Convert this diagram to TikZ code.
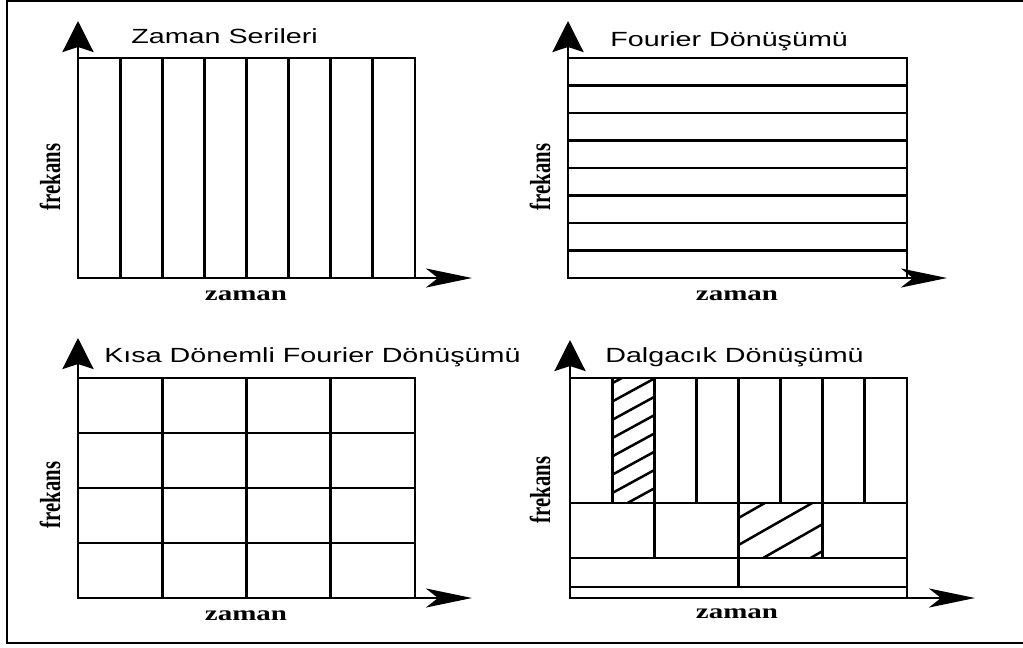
\documentclass[tikz,border=0pt]{standalone}
\usepackage{fontspec}
\setmainfont{Liberation Serif}
\newfontfamily\titlefont{Liberation Sans}
\usetikzlibrary{arrows.meta}

\begin{document}
\begin{tikzpicture}[x=1pt,y=-1pt,
  grid/.style={line width=2.9pt},
  axisline/.style={line width=2.9pt},
  uparrow/.style={axisline,-{Stealth[length=31pt,width=31pt,inset=5pt]}},
  rightarrow/.style={axisline,-{Stealth[length=46pt,width=19pt,inset=12pt]}},
  title/.style={font=\titlefont\fontsize{20.5}{24}\selectfont, xscale=1.4, anchor=base west, inner sep=0pt},
  xlabel/.style={font=\bfseries\fontsize{20.7}{24}\selectfont, xscale=1.4, anchor=base, inner sep=0pt},
  ylabel/.style={font=\bfseries\fontsize{20.7}{24}\selectfont, xscale=1.4, rotate=90, inner sep=0pt},
  hatchline/.style={line width=2.5pt}]

\useasboundingbox (0,0) rectangle (1023,648);
\fill[white] (0,0) rectangle (1023,648);

% outer frame (open on the right)
\draw[line width=2.4pt] (1024,1) -- (7,1) -- (7,643) -- (1024,643);

% ---------- time series: vertical strips ----------
\draw[grid] (78,58) rectangle (415,278);
\foreach \k in {1,...,7}
  \draw[grid] ({78+\k*42.125},58) -- ({78+\k*42.125},278);
\coordinate (o1) at (78,278);
\coordinate (u1) at (78,21);
\coordinate (r1) at (472,278);
\draw[uparrow] (o1) -- (u1);
\draw[rightarrow] (o1) -- (r1);
\node[title] (t1) at (131,43) {Zaman Serileri};
\node[xlabel] (x1) at (246,300) {zaman};
\node[ylabel] (y1) at (50,177) {frekans};

% ---------- Fourier transform: horizontal strips ----------
\draw[grid] (568,58) rectangle (907,278);
\foreach \k in {1,...,7}
  \draw[grid] (568,{58+\k*27.5}) -- (907,{58+\k*27.5});
\coordinate (o2) at (568,278);
\coordinate (u2) at (568,21);
\coordinate (r2) at (947,278);
\draw[uparrow] (o2) -- (u2);
\draw[rightarrow] (o2) -- (r2);
\node[title] (t2) at (610,46) {Fourier Dönüşümü};
\node[xlabel] (x2) at (737,300) {zaman};
\node[ylabel] (y2) at (540,177) {frekans};

% ---------- short-time Fourier transform: uniform tiles ----------
\draw[grid] (78,378) rectangle (415,598);
\foreach \k in {1,2,3} {
  \draw[grid] ({78+\k*84.25},378) -- ({78+\k*84.25},598);
  \draw[grid] (78,{378+\k*55}) -- (415,{378+\k*55});
}
\coordinate (o3) at (78,598);
\coordinate (u3) at (78,338);
\coordinate (r3) at (472,598);
\draw[uparrow] (o3) -- (u3);
\draw[rightarrow] (o3) -- (r3);
\node[title] (t3) at (104,362) {Kısa Dönemli Fourier Dönüşümü};
\node[xlabel] (x3) at (246,620) {zaman};
\node[ylabel] (y3) at (50,495) {frekans};

% ---------- wavelet transform: dyadic tiles ----------
% hatched tiles
\begin{scope}
  \clip (612.125,378) rectangle (654.25,503);
  \foreach \y in {365,383.3,...,545}
    \draw[hatchline] (612.125,\y) -- ++(42.125,-23);
\end{scope}
\begin{scope}
  \clip (738.5,503) rectangle (822.75,558);
  \foreach \y in {491,518,...,630}
    \draw[hatchline] (738.5,\y) -- ++(84.25,-48);
\end{scope}
\draw[grid] (570,378) rectangle (907,598);
\foreach \y in {503,558,587}
  \draw[grid] (570,\y) -- (907,\y);
\foreach \k in {1,...,7}
  \draw[grid] ({570+\k*42.125},378) -- ({570+\k*42.125},503);
\foreach \k in {1,2,3}
  \draw[grid] ({570+\k*84.25},503) -- ({570+\k*84.25},558);
\draw[grid] (738.5,558) -- (738.5,587);
\coordinate (o4) at (570,598);
\coordinate (u4) at (570,340);
\coordinate (r4) at (975,598);
\draw[uparrow] (o4) -- (u4);
\draw[rightarrow] (o4) -- (r4);
\node[title] (t4) at (605,362) {Dalgacık Dönüşümü};
\node[xlabel] (x4) at (737,618) {zaman};
\node[ylabel] (y4) at (540,490) {frekans};

\end{tikzpicture}
\end{document}
